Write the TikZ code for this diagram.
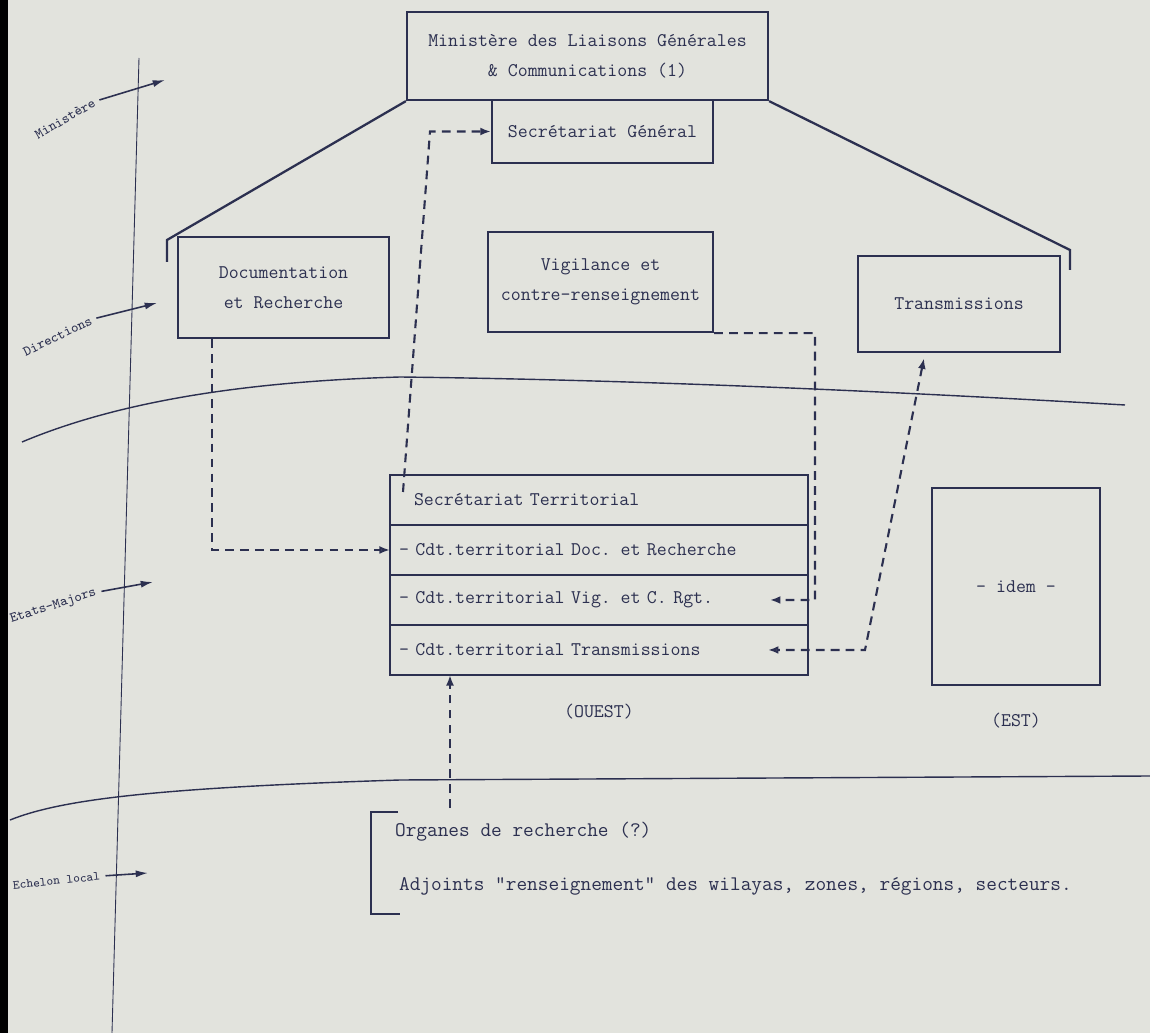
\documentclass[tikz,border=0pt]{standalone}
\usepackage{fontspec}
\usetikzlibrary{arrows.meta,positioning}
\definecolor{paper}{RGB}{226,227,221}
\definecolor{ink}{RGB}{44,48,80}
\newcommand{\typefont}{\fontsize{11}{17}\selectfont\ttfamily}
\newcommand{\lowfont}{\fontsize{11.8}{17}\selectfont\ttfamily}
\newcommand{\levelfont}{\fontsize{8}{9}\selectfont\ttfamily}
\tikzset{
  box/.style={draw=ink, line width=1.3pt, text=ink, font=\typefont, align=center, inner sep=2pt},
  rowbox/.style={draw=ink, line width=1.3pt, text=ink, font=\typefont, minimum width=8.36cm,
    minimum height=1cm, text width=8cm, inner xsep=0.18cm, outer sep=0pt, align=left},
  plain/.style={text=ink, font=\typefont, inner sep=1pt},
  lvl/.style={text=ink, font=\levelfont, inner sep=1pt},
  lvlarrow/.style={draw=ink, line width=0.9pt, shorten <=2pt, -{Latex[length=7pt,width=4pt]}},
  dashcon/.style={draw=ink, line width=1.2pt, dash pattern=on 5pt off 3.5pt},
  tip/.style={-{Latex[length=6pt,width=4.5pt]}},
  opentip/.style={-{Latex[open,length=6pt,width=4.5pt]}}
}
\begin{document}
\begin{tikzpicture}[x=0.02cm, y=-0.02cm]
\fill[paper] (0,0) rectangle (1150,1033);
\fill[black] (0,0) rectangle (8,1033);
\useasboundingbox (0,0) rectangle (1150,1033);

% levels
\draw[ink, line width=0.5pt] (139,58) -- (112,1033);
\draw[ink, line width=0.8pt] (22,442) .. controls (110,405) and (230,382) .. (400,377)
  .. controls (650,380) and (900,392) .. (1125,405);
\draw[ink, line width=0.8pt] (10,820) .. controls (60,800) and (150,788) .. (400,780) -- (1150,776);

\node[lvl, rotate=30, anchor=east] (lbl-min) at (96,101) {Ministère};
\node[lvl, rotate=26, anchor=east] (lbl-dir) at (93,319) {Directions};
\node[lvl, rotate=18, anchor=east] (lbl-em) at (98,592) {Etats-Majors};
\node[lvl, font=\fontsize{7.2}{9}\selectfont\ttfamily, rotate=6, anchor=east] (lbl-loc) at (102,876) {Echelon local};
\coordinate (min-tip) at (165,80);
\coordinate (dir-tip) at (157,303);
\coordinate (em-tip) at (153,582);
\coordinate (loc-tip) at (148,873);
\draw[lvlarrow] (lbl-min.east) -- (min-tip);
\draw[lvlarrow] (lbl-dir.east) -- (dir-tip);
\draw[lvlarrow] (lbl-em.east) -- (em-tip);
\draw[lvlarrow] (lbl-loc.east) -- (loc-tip);

% ministere et directions
\node[box, minimum width=7.22cm, minimum height=1.76cm] (min) at (587.5,56)
  {Ministère des Liaisons Générales\\\& Communications (1)};
\node[box, minimum width=4.42cm, minimum height=1.26cm] (sg) at (602.5,131.5) {Secrétariat Général};
\node[box, minimum width=4.22cm, minimum height=2.02cm] (doc) at (283.5,287.5) {Documentation\\et Recherche};
\node[box, minimum width=4.5cm, minimum height=2cm] (vig) at (600.5,282) {Vigilance et\\contre-renseignement};
\node[box, minimum width=4.04cm, minimum height=1.92cm] (trans) at (959,304) {Transmissions};

\coordinate (roof-l) at (167,240);
\coordinate (roof-r) at (1070,250);
\draw[ink, line width=1.3pt] (min.south west) -- (roof-l) -- ++(0,22);
\draw[ink, line width=1.3pt] (min.south east) -- (roof-r) -- ++(0,20);

% etats-majors
\node[rowbox, anchor=north west] (st1) at (390,475) {\hspace*{0.3cm}Secrétariat Territorial};
\node[rowbox, below=0pt of st1] (st2) {- Cdt.territorial Doc. et Recherche};
\node[rowbox, below=0pt of st2] (st3) {- Cdt.territorial Vig. et C. Rgt.};
\node[rowbox, below=0pt of st3] (st4) {- Cdt.territorial Transmissions};
\node[plain, below=0.55cm of st4] (ouest) {(OUEST)};
\node[box, minimum width=3.36cm, minimum height=3.94cm] (idem) at (1016,586.5) {- idem -};
\node[plain, below=0.5cm of idem] (est) {(EST)};

\coordinate (st-src) at (403,492);
\coordinate (sg-bend) at (430,131.5);
\draw[dashcon, tip] (st-src) -- (sg-bend) -- (sg.west);
\draw[dashcon, opentip] ([xshift=0.7cm]doc.south west) -- ([xshift=0.7cm]doc.south west |- st2.west) -- (st2.west);
\coordinate (vig-turn) at (815,600);
\draw[dashcon, tip] (vig.south east) -- (vig.south east -| vig-turn) -- (vig-turn) -- ([xshift=-0.76cm]st3.east);
\coordinate (trans-turn) at (865,650);
\draw[dashcon, {Latex[length=6pt,width=4.5pt]}-{Latex[open,length=6pt,width=4.5pt]}, shorten <=3pt]
  ([xshift=-0.68cm]trans.south) -- (trans-turn) -- ([xshift=-0.8cm]st4.east);

% echelon local
\node[plain, font=\lowfont, anchor=west] (org) at (393,832) {Organes de recherche (?)};
\node[plain, font=\lowfont, anchor=west] (adj) at (397,886) {Adjoints "renseignement" des wilayas, zones, régions, secteurs.};
\draw[ink, line width=1.5pt] (398,812) -- (371,812) -- (371,914) -- (400,914);
\coordinate (org-src) at (450,808);
\draw[dashcon, tip] (org-src) -- (st4.south -| org-src);
\end{tikzpicture}
\end{document}
